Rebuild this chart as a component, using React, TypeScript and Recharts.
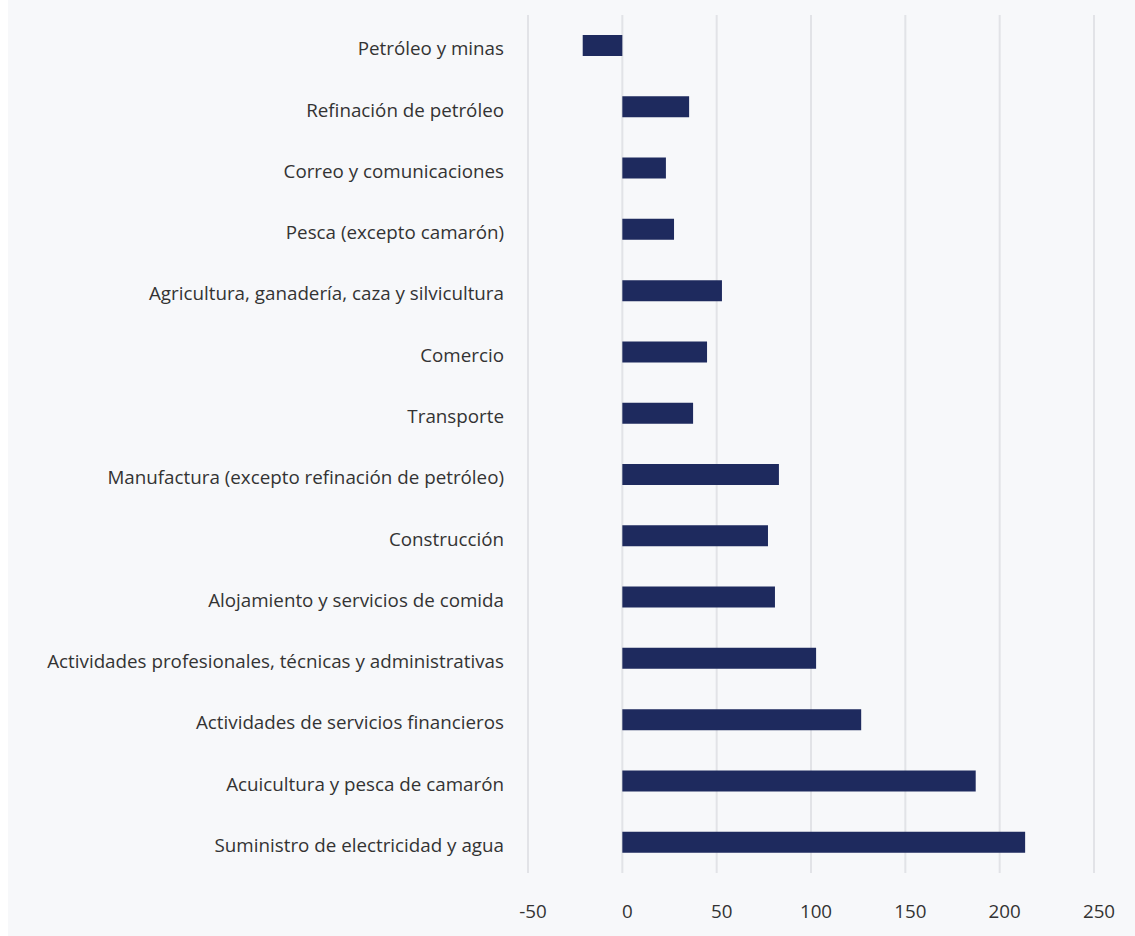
import { BarChart, Bar, XAxis, YAxis, CartesianGrid } from 'recharts';

const sectors = [
  'Petróleo y minas',
  'Refinación de petróleo',
  'Correo y comunicaciones ',
  'Pesca (excepto camarón)',
  'Agricultura, ganadería, caza y silvicultura',
  'Comercio',
  'Transporte',
  'Manufactura (excepto refinación de petróleo)',
  'Construcción',
  'Alojamiento y servicios de comida ',
  'Actividades profesionales, técnicas y administrativas',
  'Actividades de servicios financieros',
  'Acuicultura y pesca de camarón',
  'Suministro de electricidad y agua',
];

const values = [-21, 35.4, 23.1, 27.4, 52.8, 44.9, 37.5, 83, 77.2, 80.9, 102.7, 126.6, 187.3, 213.5];

const xTicks = [-50, 0, 50, 100, 150, 200, 250];

const data = sectors.map((name, i) => ({ name, value: values[i] }));

const font = '"Open Sans", "Noto Sans", sans-serif';

export default function App() {
  return (
    <div
      style={{
        position: 'absolute',
        top: 0,
        left: 8,
        width: 1127,
        height: 936,
        background: '#f7f8fa',
        fontFamily: font,
      }}
    >
      <BarChart
        width={1127}
        height={936}
        layout="vertical"
        data={data}
        margin={{ top: 15, right: 41, left: 0, bottom: 13 }}
        barCategoryGap={0}
      >
        <CartesianGrid horizontal={false} stroke="#e2e3e7" strokeWidth={2} />
        <XAxis
          type="number"
          domain={[-50, 250]}
          ticks={xTicks}
          axisLine={false}
          tickLine={false}
          tickSize={0}
          tickMargin={32}
          height={50}
          tick={{ fill: '#333333', fontSize: 18.8, fontFamily: font, dx: 5 }}
        />
        <YAxis
          type="category"
          dataKey="name"
          width={520}
          axisLine={false}
          tickLine={false}
          tickSize={0}
          tickMargin={24}
          interval={0}
          tick={{ fill: '#333333', fontSize: 18.8, fontFamily: font, dy: 3 }}
        />
        <Bar dataKey="value" fill="#1e2a5e" barSize={21} isAnimationActive={false} />
      </BarChart>
    </div>
  );
}
